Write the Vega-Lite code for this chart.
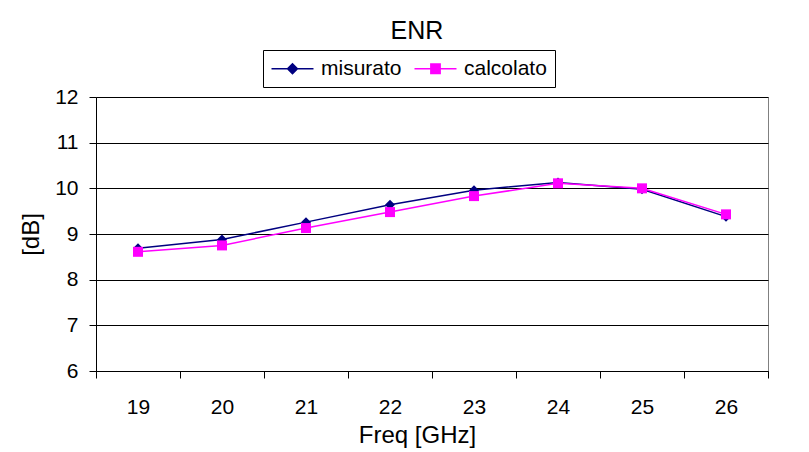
{
  "$schema": "https://vega.github.io/schema/vega-lite/v6.json",
  "width": 672,
  "height": 274,
  "autosize": {"type": "none"},
  "padding": {"left": 96, "top": 97, "right": 41, "bottom": 81},
  "background": "white",
  "config": {
    "font": "Liberation Sans",
    "view": {"stroke": "#808080", "strokeWidth": 1}
  },
  "title": {
    "text": "ENR",
    "anchor": "middle",
    "frame": "group",
    "dx": -15,
    "offset": -14,
    "baseline": "alphabetic",
    "fontSize": 25,
    "fontWeight": "normal",
    "color": "black"
  },
  "data": {
    "values": [
      {"freq": 19, "serie": "misurato", "enr": 8.69},
      {"freq": 20, "serie": "misurato", "enr": 8.88},
      {"freq": 21, "serie": "misurato", "enr": 9.26},
      {"freq": 22, "serie": "misurato", "enr": 9.64},
      {"freq": 23, "serie": "misurato", "enr": 9.96},
      {"freq": 24, "serie": "misurato", "enr": 10.13},
      {"freq": 25, "serie": "misurato", "enr": 9.98},
      {"freq": 26, "serie": "misurato", "enr": 9.38},
      {"freq": 19, "serie": "calcolato", "enr": 8.61},
      {"freq": 20, "serie": "calcolato", "enr": 8.75},
      {"freq": 21, "serie": "calcolato", "enr": 9.13},
      {"freq": 22, "serie": "calcolato", "enr": 9.48},
      {"freq": 23, "serie": "calcolato", "enr": 9.83},
      {"freq": 24, "serie": "calcolato", "enr": 10.11},
      {"freq": 25, "serie": "calcolato", "enr": 10.0},
      {"freq": 26, "serie": "calcolato", "enr": 9.43}
    ]
  },
  "encoding": {
    "x": {
      "field": "freq",
      "type": "ordinal",
      "bandPosition": 0.5,
      "scale": {"type": "band", "paddingInner": 0, "paddingOuter": 0},
      "axis": {
        "title": "Freq [GHz]",
        "titleFontSize": 24,
        "titleFontWeight": "normal",
        "titleColor": "black",
        "titleX": 321,
        "titleY": 71,
        "titleBaseline": "alphabetic",
        "titleAlign": "center",
        "labelAngle": 0,
        "labelFontSize": 21,
        "labelColor": "black",
        "labelBaseline": "alphabetic",
        "labelPadding": 35,
        "labelFlush": false,
        "labelOverlap": false,
        "tickBand": "extent",
        "tickSize": 7,
        "tickColor": "black",
        "domainColor": "black",
        "grid": false
      }
    },
    "y": {
      "field": "enr",
      "type": "quantitative",
      "scale": {"domain": [6, 12], "nice": false, "zero": false},
      "axis": {
        "title": "[dB]",
        "titleFontSize": 24,
        "titleFontWeight": "normal",
        "titleColor": "black",
        "titleAngle": 270,
        "titleX": -58,
        "titleY": 137,
        "titleBaseline": "alphabetic",
        "titleAlign": "center",
        "values": [6, 7, 8, 9, 10, 11, 12],
        "format": "d",
        "labelFontSize": 21,
        "labelColor": "black",
        "labelPadding": 11,
        "labelFlush": false,
        "labelOverlap": false,
        "tickSize": 7,
        "tickColor": "black",
        "domainColor": "black",
        "grid": true,
        "gridColor": "black"
      }
    },
    "color": {
      "field": "serie",
      "type": "nominal",
      "scale": {"domain": ["misurato", "calcolato"], "range": ["#000080", "#FF00FF"]},
      "legend": {
        "title": null,
        "orient": "none",
        "legendX": 167,
        "legendY": -47,
        "direction": "horizontal",
        "padding": 8,
        "strokeColor": "black",
        "fillColor": "white",
        "cornerRadius": 0,
        "labelFontSize": 21,
        "labelColor": "black",
        "labelOffset": 29,
        "columnPadding": 12,
        "symbolSize": 144,
        "symbolStrokeWidth": 0,
        "encode": {
          "symbols": {
            "update": {
              "shape": {"signal": "datum.value === 'misurato' ? 'M-1.667,-0.125H5.333V0.125H-1.667ZM0.833,0L1.833,-1L2.833,0L1.833,1Z' : 'M-1.667,-0.125H5.333V0.125H-1.667ZM0.933,-0.9H2.733V0.9H0.933Z'"},
              "fill": {"signal": "datum.value === 'misurato' ? '#000080' : '#FF00FF'"},
              "stroke": {"value": "transparent"},
              "strokeWidth": {"value": 0},
              "opacity": {"value": 1}
            }
          }
        }
      }
    }
  },
  "layer": [
    {"mark": {"type": "line", "strokeWidth": 1.5}},
    {
      "transform": [{"filter": "datum.serie === 'misurato'"}],
      "mark": {"type": "point", "shape": "diamond", "filled": true, "opacity": 1, "size": 100}
    },
    {
      "transform": [{"filter": "datum.serie === 'calcolato'"}],
      "mark": {"type": "point", "shape": "square", "filled": true, "opacity": 1, "size": 100}
    }
  ]
}
